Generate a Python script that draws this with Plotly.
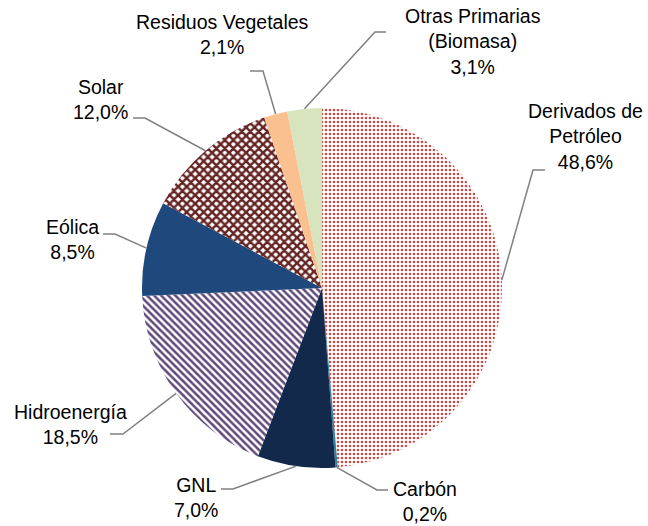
import math
import plotly.graph_objects as go

labels = ["Derivados de Petróleo", "Carbón", "GNL", "Hidroenergía", "Eólica",
          "Solar", "Residuos Vegetales", "Otras Primarias (Biomasa)"]
values = [48.6, 0.2, 7.0, 18.5, 8.5, 12.0, 2.1, 3.1]
label_texts = ["Derivados de<br>Petróleo<br>48,6%", "Carbón<br>0,2%", "GNL<br>7,0%",
               "Hidroenergía<br>18,5%", "Eólica<br>8,5%", "Solar<br>12,0%",
               "Residuos Vegetales<br>2,1%", "Otras Primarias<br>(Biomasa)<br>3,1%"]

colors = ["#FFFFFF", "#31849B", "#13294B", "#FFFFFF", "#1F497D", "#FFFFFF", "#FAC090", "#D7E4BD"]
pat_shape = [".", "", "", "\\", "", "x", "", ""]
pat_fg = ["#C0504D", "#31849B", "#13294B", "#5F497A", "#1F497D", "#632523", "#FAC090", "#D7E4BD"]
pat_bg = ["#FFFFFF", "#31849B", "#13294B", "#FFFFFF", "#1F497D", "#FFFFFF", "#FAC090", "#D7E4BD"]
pat_size = [4, 6, 6, 5, 6, 6, 6, 6]
pat_sol = [0.36, 0.3, 0.3, 0.5, 0.3, 0.65, 0.3, 0.3]

W, H = 648, 526
cx, cy, R = 322, 288, 180

# label block centers (px) and leader elbow/end points (px)
label_pos = [(585, 136), (425, 501), (196, 497), (70, 424), (72, 239), (100, 100), (223, 35), (473, 41)]
elbows = [(533, 170), (377, 490), (233, 489), (123, 434), (115, 234), (145, 118), (263, 71), (375, 32)]
ends = [(545, 170), (388, 490), (221, 489), (110, 434), (103, 234), (133, 118), (250, 71), (386, 32)]

fig = go.Figure(go.Pie(
    labels=labels, values=values, sort=False, direction="clockwise", rotation=0,
    textinfo="none", hoverinfo="label+percent",
    marker=dict(colors=colors, line=dict(width=0),
                pattern=dict(shape=pat_shape, fgcolor=pat_fg, bgcolor=pat_bg,
                             size=pat_size, solidity=pat_sol, fillmode="replace")),
    domain=dict(x=[(cx - R) / W, (cx + R) / W], y=[1 - (cy + R) / H, 1 - (cy - R) / H]),
))

def px2paper(x, y):
    return x / W, 1 - y / H

total = sum(values)
cum = 0
shapes, annotations = [], []
for i, v in enumerate(values):
    mid = (cum + v / 2) / total * 2 * math.pi
    cum += v
    ex, ey = cx + R * math.sin(mid), cy - R * math.cos(mid)
    p0 = px2paper(ex, ey)
    p1 = px2paper(*elbows[i])
    p2 = px2paper(*ends[i])
    shapes.append(dict(type="path", xref="paper", yref="paper",
                       path=f"M {p0[0]} {p0[1]} L {p1[0]} {p1[1]} L {p2[0]} {p2[1]}",
                       line=dict(color="#808080", width=1.5)))
    lx, ly = px2paper(*label_pos[i])
    annotations.append(dict(x=lx, y=ly, xref="paper", yref="paper", text=label_texts[i],
                            showarrow=False, xanchor="center", yanchor="middle", align="center",
                            font=dict(family="Liberation Sans, Arial, sans-serif", size=19.5, color="#000000")))

fig.update_layout(width=W, height=H, margin=dict(l=0, r=0, t=0, b=0),
                  paper_bgcolor="white", plot_bgcolor="white", showlegend=False,
                  shapes=shapes, annotations=annotations)
fig.write_html("out.html")
